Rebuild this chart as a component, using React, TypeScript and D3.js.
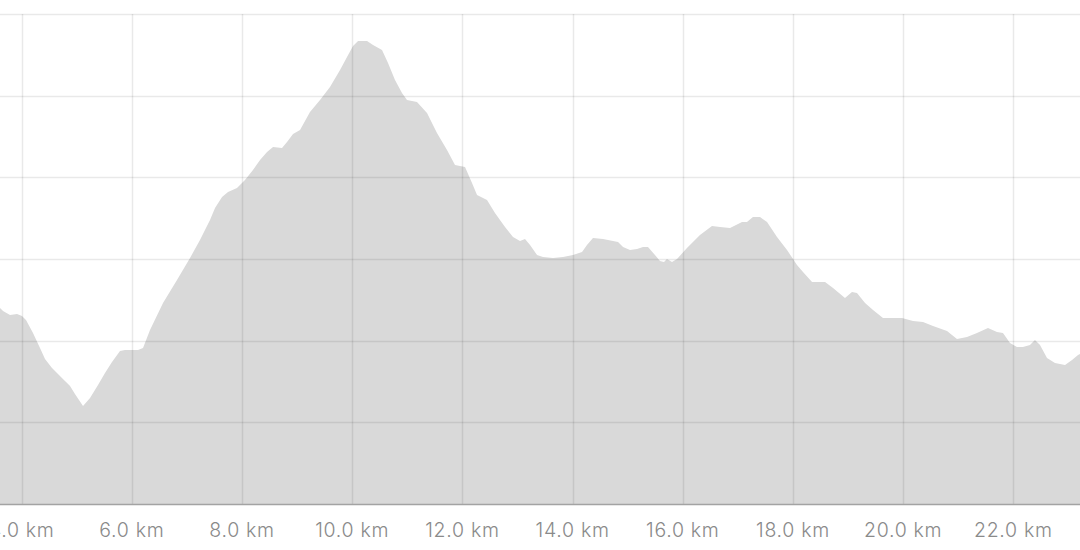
import React, { useEffect, useRef } from "react";
import * as d3 from "d3";

const distanceKm = [
  3.606, 3.661, 3.788, 3.915, 4.005, 4.078, 4.205, 4.332, 4.423, 4.55, 4.695, 4.877, 4.967, 5.113, 5.24, 5.385,
  5.512, 5.639, 5.784, 5.875, 6.111, 6.202, 6.329, 6.565, 6.819, 7.055, 7.236, 7.418, 7.509, 7.636, 7.745, 7.908,
  8.053, 8.198, 8.326, 8.453, 8.562, 8.725, 8.816, 8.925, 9.052, 9.233, 9.415, 9.596, 9.778, 9.905, 10.014, 10.105,
  10.268, 10.377, 10.54, 10.649, 10.776, 10.903, 10.994, 11.175, 11.357, 11.538, 11.72, 11.865, 12.047, 12.174,
  12.265, 12.446, 12.591, 12.773, 12.918, 13.045, 13.136, 13.227, 13.354, 13.463, 13.644, 13.826, 14.007, 14.171,
  14.261, 14.37, 14.552, 14.824, 14.915, 15.042, 15.169, 15.278, 15.368, 15.495, 15.586, 15.659, 15.713, 15.804,
  15.895, 16.076, 16.312, 16.53, 16.675, 16.857, 17.075, 17.165, 17.274, 17.402, 17.529, 17.71, 17.892, 18.073,
  18.182, 18.346, 18.582, 18.727, 18.944, 19.071, 19.162, 19.308, 19.453, 19.634, 19.816, 19.979, 20.179, 20.36,
  20.542, 20.796, 20.977, 21.159, 21.34, 21.54, 21.703, 21.812, 21.939, 22.066, 22.175, 22.302, 22.393, 22.484,
  22.611, 22.756, 22.938, 23.065, 23.174, 23.21,
];

const elevationM = [
  120.0, 118.2, 115.7, 116.3, 115.1, 112.6, 104.7, 95.5, 88.8, 83.3, 78.4, 72.2, 67.3, 60.0, 64.9, 72.9,
  80.2, 86.9, 93.7, 94.3, 94.3, 95.5, 106.5, 123.1, 137.1, 150.6, 161.6, 173.9, 181.2, 187.9, 191.0, 193.5,
  198.4, 204.5, 210.6, 215.5, 218.6, 217.9, 221.6, 226.5, 229.0, 240.0, 247.3, 255.3, 265.7, 273.7, 280.4, 283.4,
  283.4, 281.0, 277.9, 270.0, 259.6, 251.6, 247.3, 246.1, 239.4, 227.1, 216.7, 207.5, 206.3, 196.5,
  189.2, 186.1, 178.2, 169.6, 163.5, 161.0, 162.2, 158.6, 152.4, 151.2, 150.6, 151.2, 152.4, 154.3,
  158.6, 162.8, 162.2, 160.4, 157.3, 155.5, 156.1, 157.3, 157.3, 152.4, 148.8, 148.2, 150.0, 148.2,
  150.0, 156.7, 164.7, 170.2, 169.6, 169.0, 172.6, 172.6, 175.7, 175.7, 172.6, 163.5, 155.5, 146.3,
  142.0, 135.9, 135.9, 132.2, 126.1, 129.8, 129.2, 123.1, 118.8, 113.9, 113.9, 113.9, 112.0, 111.4,
  109.0, 105.9, 101.0, 102.2, 104.7, 107.7, 105.3, 104.7, 98.6, 96.1, 96.1, 97.3, 100.4, 97.3,
  89.4, 86.3, 85.1, 88.2, 91.2, 91.8,
];

const xTicks = [4, 6, 8, 10, 12, 14, 16, 18, 20, 22];
const yTicks = [50, 100, 150, 200, 250, 300];

const W = 1080;
const H = 550;

export default function App() {
  const ref = useRef<SVGSVGElement>(null);

  useEffect(() => {
    const svg = d3.select(ref.current);
    svg.selectAll("*").remove();

    const x = d3.scaleLinear().domain([3.606, 23.21]).range([0, W]);
    const y = d3.scaleLinear().domain([0, 300]).range([504, 14]);

    const data = distanceKm.map((d, i) => ({ d, e: elevationM[i] }));

    const area = d3
      .area<{ d: number; e: number }>()
      .x((p) => x(p.d))
      .y0(y(0))
      .y1((p) => y(p.e))
      .curve(d3.curveLinear);

    svg.append("path").datum(data).attr("d", area).attr("fill", "#d9d9d9");

    const grid = svg.append("g");
    grid
      .selectAll("line.h")
      .data(yTicks)
      .join("line")
      .attr("class", "h")
      .attr("x1", 0)
      .attr("x2", W)
      .attr("y1", (v) => Math.round(y(v)) + 0.5)
      .attr("y2", (v) => Math.round(y(v)) + 0.5)
      .attr("stroke", "rgba(0,0,0,0.085)")
      .attr("stroke-width", 1.5);

    grid
      .selectAll("line.v")
      .data(xTicks)
      .join("line")
      .attr("class", "v")
      .attr("x1", (v) => Math.round(x(v)) + 0.5)
      .attr("x2", (v) => Math.round(x(v)) + 0.5)
      .attr("y1", y(300))
      .attr("y2", y(0))
      .attr("stroke", "rgba(0,0,0,0.085)")
      .attr("stroke-width", 1.5);

    svg
      .append("line")
      .attr("x1", 0)
      .attr("x2", W)
      .attr("y1", y(0) + 0.5)
      .attr("y2", y(0) + 0.5)
      .attr("stroke", "#a3a3a3")
      .attr("stroke-width", 1.5);

    svg
      .append("g")
      .selectAll("text")
      .data(xTicks)
      .join("text")
      .attr("x", (v) => x(v))
      .attr("y", 537)
      .attr("text-anchor", "middle")
      .attr("font-family", "Inter, 'Noto Sans', sans-serif")
      .attr("font-size", 19.5)
      .attr("font-weight", 300)
      .attr("letter-spacing", 0.7)
      .attr("fill", "#8a8a8a")
      .text((v) => `${v.toFixed(1)} km`);
  }, []);

  return (
    <div style={{ position: "absolute", left: 0, top: 0, width: W, height: H, background: "#fff" }}>
      <svg ref={ref} width={W} height={H} style={{ display: "block" }} />
    </div>
  );
}
